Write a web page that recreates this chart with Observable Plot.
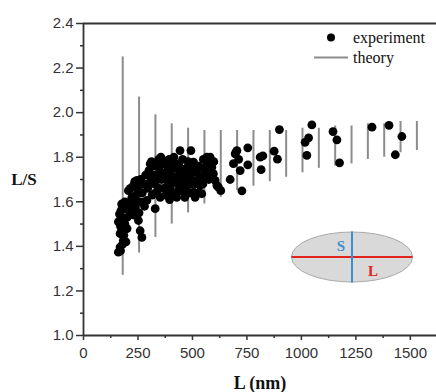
<!DOCTYPE html>
<html>
<head>
<meta charset="utf-8">
<script src="https://cdn.jsdelivr.net/npm/d3@7"></script>
<script src="https://cdn.jsdelivr.net/npm/@observablehq/plot@0.6"></script>
<style>
  html, body { margin: 0; padding: 0; background: #fff; }
  #chart { width: 436px; height: 392px; }
</style>
</head>
<body>
<div id="chart"></div>
<script>
// Theory ranges (vertical bars)
const theoryL  = [180, 255, 330, 405, 480, 555, 630, 705, 780, 855, 930, 1005, 1080, 1155, 1230, 1305, 1380, 1455, 1530];
const theoryLo = [1.27, 1.37, 1.44, 1.50, 1.55, 1.59, 1.62, 1.65, 1.67, 1.69, 1.71, 1.73, 1.75, 1.76, 1.77, 1.79, 1.80, 1.82, 1.83];
const theoryHi = [2.25, 2.07, 1.99, 1.95, 1.93, 1.92, 1.92, 1.92, 1.92, 1.92, 1.92, 1.93, 1.93, 1.94, 1.94, 1.95, 1.95, 1.96, 1.96];

// Experimental points: L (nm) and L/S
const expL = [
  160,170,168,180,183,195,168,175,185,160,170,178,190,165,172,183,195,200,175,190,
  206,214,210,222,229,237,240,245,250,252,255,260,268,265,262,270,275,280,285,
  200,215,225,232,245,258,235,
  291,295,300,306,310,315,320,325,329,335,340,345,350,352,358,362,368,372,378,382,
  386,390,395,398,402,408,412,418,422,428,432,437,443,445,450,455,
  300,312,318,330,338,342,348,355,365,375,380,388,393,400,405,415,425,435,440,448,
  458,468,478,488,500,515,525,530,548,560,570,585,598,
  460,465,470,475,480,485,493,490,497,505,505,505,512,520,528,535,540,543,550,558,
  558,566,566,575,581,589,596,604,612,619,630,
  673,688,696,700,704,712,719,727,754,754,
  811,823,815,875,890,899,1017,1033,1025,1048,1145,1163,1175,1324,1402,1431,1461
];
const expRatio = [
  1.374,1.38,1.397,1.41,1.427,1.42,1.457,1.47,1.45,1.51,1.49,1.53,1.50,1.545,1.56,1.575,1.57,1.53,1.59,1.60,
  1.65,1.60,1.56,1.62,1.673,1.576,1.63,1.696,1.66,1.516,1.55,1.47,1.44,1.60,1.70,1.64,1.68,1.58,1.72,
  1.48,1.66,1.58,1.54,1.60,1.64,1.69,
  1.606,1.66,1.74,1.77,1.70,1.63,1.76,1.68,1.569,1.72,1.65,1.79,1.74,1.62,1.70,1.77,1.66,1.73,1.63,1.77,
  1.69,1.75,1.61,1.66,1.72,1.78,1.64,1.70,1.75,1.62,1.68,1.77,1.83,1.72,1.65,1.79,
  1.68,1.78,1.72,1.64,1.76,1.70,1.66,1.80,1.71,1.78,1.70,1.64,1.79,1.68,1.75,1.80,1.71,1.65,1.74,1.69,
  1.66,1.72,1.70,1.76,1.74,1.68,1.70,1.64,1.68,1.72,1.77,1.72,1.78,
  1.70,1.62,1.75,1.67,1.78,1.64,1.83,1.72,1.68,1.778,1.695,1.643,1.62,1.733,1.76,1.673,1.71,1.636,1.79,1.755,
  1.74,1.80,1.785,1.70,1.80,1.755,1.726,1.696,1.673,1.666,1.65,
  1.70,1.771,1.815,1.823,1.83,1.79,1.74,1.649,1.842,1.766,
  1.80,1.806,1.744,1.827,1.791,1.924,1.867,1.887,1.808,1.945,1.915,1.878,1.775,1.935,1.943,1.811,1.893
];

const xMajor = [0, 250, 500, 750, 1000, 1250, 1500];
const xMinor = [125, 375, 625, 875, 1125, 1375];
const yMajor = [1.0, 1.2, 1.4, 1.6, 1.8, 2.0, 2.2, 2.4];
const yMinor = [1.1, 1.3, 1.5, 1.7, 1.9, 2.1, 2.3];

const theory = theoryL.map((L, i) => ({L, lo: theoryLo[i], hi: theoryHi[i]}));
const points = expL.map((L, i) => ({L, r: expRatio[i]}));

const axisColor = "#333";
const svg = Plot.plot({
  width: 436,
  height: 392,
  marginLeft: 83,
  marginRight: 0,
  marginTop: 23,
  marginBottom: 57,
  style: {fontFamily: "'Liberation Sans', Arial, sans-serif", fontSize: "15px", color: "#333", background: "#fff"},
  x: {domain: [0, 1620], label: null},
  y: {domain: [1.0, 2.4], label: null},
  marks: [
    Plot.ruleX(theory, {x: "L", y1: "lo", y2: "hi", stroke: "#8c8c8c", strokeWidth: 2}),
    Plot.dot(points, {x: "L", y: "r", r: 4.4, fill: "#000", stroke: "none"}),
    Plot.axisY({ticks: yMajor, tickSize: 7, tickPadding: 3, tickFormat: d => d.toFixed(1), stroke: axisColor, strokeWidth: 1.5, fontSize: 15, label: null}),
    Plot.axisY({ticks: yMinor, tickSize: 3, tickFormat: () => "", stroke: axisColor, strokeWidth: 1.5, label: null}),
    Plot.axisX({ticks: xMajor, tickSize: 5, tickPadding: 7, tickFormat: d => String(d), stroke: axisColor, strokeWidth: 1.5, fontSize: 15, label: null}),
    Plot.axisX({ticks: xMinor, tickSize: 3, tickFormat: () => "", stroke: axisColor, strokeWidth: 1.5, label: null}),
    Plot.ruleX([0], {stroke: axisColor, strokeWidth: 1.8}),
    Plot.ruleY([1.0, 2.4], {stroke: axisColor, strokeWidth: 1.8})
  ]
});
document.getElementById("chart").appendChild(svg);

const s = d3.select(svg);
const serif = "'Liberation Serif', 'Times New Roman', serif";

// Axis titles
s.append("text").attr("x", 24).attr("y", 185).attr("text-anchor", "middle")
  .attr("font-family", serif).attr("font-weight", "bold").attr("font-size", 17).attr("fill", "#111").text("L/S");
s.append("text").attr("x", 260).attr("y", 389).attr("text-anchor", "middle")
  .attr("font-family", serif).attr("font-weight", "bold").attr("font-size", 18).attr("fill", "#111").text("L (nm)");

// Legend
s.append("circle").attr("cx", 331).attr("cy", 37.5).attr("r", 4).attr("fill", "#000");
s.append("text").attr("x", 353).attr("y", 42.5).attr("text-anchor", "start").attr("font-family", serif).attr("font-size", 16).attr("fill", "#111").text("experiment");
s.append("line").attr("x1", 314).attr("x2", 348).attr("y1", 57.5).attr("y2", 57.5).attr("stroke", "#8c8c8c").attr("stroke-width", 2);
s.append("text").attr("x", 353).attr("y", 62.5).attr("text-anchor", "start").attr("font-family", serif).attr("font-size", 16).attr("fill", "#111").text("theory");

// Inset: ellipse with long (L) and short (S) axes
const g = s.append("g");
g.append("ellipse").attr("cx", 352).attr("cy", 257).attr("rx", 60.5).attr("ry", 25).attr("fill", "#d9d9d9").attr("stroke", "#aaaaaa").attr("stroke-width", 1);
g.append("line").attr("x1", 291.5).attr("x2", 412.5).attr("y1", 257).attr("y2", 257).attr("stroke", "#e3231d").attr("stroke-width", 2);
g.append("line").attr("x1", 352).attr("x2", 352).attr("y1", 231.5).attr("y2", 282.5).attr("stroke", "#3d8fd1").attr("stroke-width", 2);
g.append("text").attr("x", 341).attr("y", 251).attr("text-anchor", "middle").attr("font-family", serif).attr("font-weight", "bold").attr("font-size", 15).attr("fill", "#3d8fd1").text("S");
g.append("text").attr("x", 373).attr("y", 276).attr("text-anchor", "middle").attr("font-family", serif).attr("font-weight", "bold").attr("font-size", 15).attr("fill", "#e3231d").text("L");
</script>
</body>
</html>
